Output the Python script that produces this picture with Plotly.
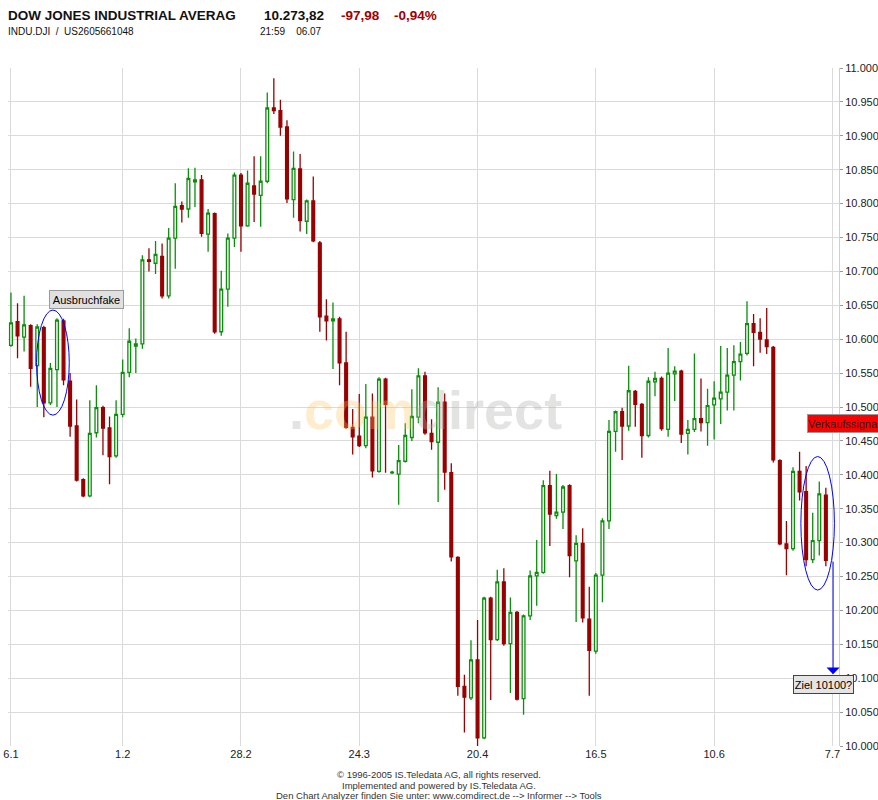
import numpy as np
import pandas as pd
import plotly.graph_objects as go

# NYSE holidays inside the window (no candles on these days)
HOLIDAYS = ["2005-01-17", "2005-02-21", "2005-03-25", "2005-05-30", "2005-07-04"]
TICK_DAYS = ["2005-01-06", "2005-02-01", "2005-02-28", "2005-03-24",
             "2005-04-20", "2005-05-16", "2005-06-10", "2005-07-07"]

# daily OHLC, Dow Jones Industrial Average, 06.01.2005 - 06.07.2005
open_ = [10591, 10626, 10603, 10620, 10561, 10617, 10506, 10555, 10627, 10538,
         10472, 10393, 10369, 10462, 10499, 10469, 10428, 10489, 10551, 10590,
         10593, 10717, 10712, 10722, 10664, 10749, 10797, 10792, 10832, 10835,
         10755, 10785, 10611, 10674, 10749, 10842, 10767, 10826, 10812, 10833,
         10941, 10937, 10913, 10806, 10851, 10774, 10804, 10742, 10634, 10627,
         10630, 10565, 10470, 10457, 10443, 10485, 10405, 10541, 10403, 10401,
         10420, 10455, 10485, 10546, 10461, 10448, 10507, 10403, 10278, 10088,
         10071, 10127, 10012, 10218, 10157, 10242, 10151, 10197, 10070, 10192,
         10251, 10256, 10384, 10340, 10345, 10384, 10273, 10299, 10187, 10140,
         10252, 10332, 10464, 10493, 10472, 10523, 10504, 10458, 10537, 10542,
         10467, 10549, 10553, 10461, 10467, 10483, 10477, 10503, 10512, 10522,
         10547, 10567, 10579, 10623, 10610, 10599, 10588, 10421, 10298, 10291,
         10405, 10375, 10275, 10303, 10370]
high = [10669, 10653, 10664, 10622, 10622, 10620, 10565, 10631, 10630, 10550,
        10511, 10395, 10510, 10532, 10502, 10486, 10510, 10570, 10616, 10601,
        10724, 10734, 10745, 10741, 10764, 10830, 10803, 10852, 10853, 10842,
        10792, 10787, 10701, 10756, 10846, 10845, 10849, 10870, 10870, 10964,
        10985, 10953, 10923, 10877, 10873, 10806, 10840, 10745, 10659, 10654,
        10633, 10611, 10497, 10519, 10534, 10520, 10544, 10543, 10406, 10444,
        10476, 10526, 10557, 10552, 10482, 10529, 10520, 10417, 10280, 10105,
        10156, 10186, 10220, 10220, 10260, 10262, 10219, 10199, 10194, 10259,
        10304, 10392, 10406, 10401, 10385, 10386, 10311, 10321, 10235, 10255,
        10336, 10481, 10495, 10499, 10561, 10525, 10506, 10544, 10552, 10545,
        10587, 10560, 10555, 10481, 10579, 10542, 10527, 10538, 10590, 10587,
        10591, 10596, 10656, 10637, 10631, 10646, 10590, 10423, 10332, 10411,
        10434, 10413, 10344, 10390, 10381]
low = [10589, 10572, 10582, 10530, 10500, 10485, 10503, 10500, 10532, 10456,
       10390, 10367, 10367, 10455, 10429, 10386, 10425, 10485, 10544, 10550,
       10586, 10700, 10696, 10660, 10660, 10704, 10772, 10779, 10795, 10751,
       10729, 10608, 10605, 10648, 10736, 10729, 10766, 10773, 10766, 10830,
       10932, 10900, 10801, 10779, 10759, 10755, 10743, 10611, 10598, 10556,
       10532, 10468, 10430, 10441, 10439, 10396, 10403, 10403, 10401, 10356,
       10418, 10450, 10476, 10459, 10437, 10360, 10378, 10272, 10074, 10020,
       10068, 10000, 10010, 10068, 10155, 10148, 10078, 10067, 10046, 10186,
       10207, 10254, 10295, 10335, 10320, 10249, 10183, 10182, 10074, 10136,
       10212, 10320, 10434, 10422, 10465, 10471, 10425, 10455, 10516, 10465,
       10456, 10509, 10447, 10430, 10463, 10464, 10443, 10452, 10475, 10495,
       10495, 10539, 10576, 10560, 10580, 10578, 10418, 10296, 10252, 10288,
       10362, 10265, 10270, 10281, 10265]
close = [10624, 10605, 10621, 10557, 10618, 10506, 10557, 10628, 10540, 10472,
         10392, 10369, 10461, 10499, 10469, 10427, 10489, 10551, 10597, 10593,
         10717, 10715, 10725, 10664, 10749, 10796, 10792, 10837, 10835, 10756,
         10786, 10611, 10674, 10749, 10842, 10767, 10830, 10814, 10833, 10941,
         10937, 10913, 10807, 10852, 10775, 10804, 10745, 10633, 10627, 10630,
         10565, 10470, 10456, 10443, 10485, 10406, 10541, 10504, 10404, 10421,
         10458, 10486, 10546, 10462, 10449, 10507, 10404, 10279, 10088, 10072,
         10127, 10012, 10218, 10157, 10242, 10151, 10197, 10069, 10192, 10251,
         10256, 10384, 10342, 10345, 10382, 10281, 10299, 10189, 10141, 10252,
         10332, 10464, 10493, 10472, 10524, 10504, 10458, 10538, 10542, 10468,
         10550, 10553, 10460, 10467, 10483, 10477, 10502, 10513, 10522, 10547,
         10567, 10578, 10623, 10610, 10600, 10589, 10422, 10298, 10291, 10405,
         10375, 10275, 10303, 10372, 10274]

trade_days = pd.bdate_range("2005-01-06", TICK_DAYS[-1], freq="C", holidays=HOLIDAYS)
days = trade_days[:len(close)]

GREEN = "#0a8f0a"
RED = "#990000"
FONT = "Liberation Sans, Arial, sans-serif"

# plot area inside the 878x800 page, in pixels
L, R, T, B = 8, 839, 68, 746


def px(x):
    return (x - L) / (R - L)


def py(y):
    return (B - y) / (B - T)


def xat(i):
    # fractional trading-day position -> timestamp on the broken date axis
    k = min(max(int(np.floor(i)), 0), len(trade_days) - 1)
    return str(trade_days[k] + pd.Timedelta(days=i - k))


fig = go.Figure(go.Candlestick(
    x=days, open=open_, high=high, low=low, close=close,
    increasing=dict(line=dict(color=GREEN, width=1.3), fillcolor="white"),
    decreasing=dict(line=dict(color=RED, width=1.3), fillcolor=RED),
    whiskerwidth=0,
    showlegend=False,
))

fig.update_layout(
    width=878, height=800, autosize=False,
    margin=dict(l=L, r=878 - R, t=T, b=800 - B),
    paper_bgcolor="white", plot_bgcolor="white",
    separators=",.",
    boxgap=0.4,
    font=dict(family=FONT, size=11, color="#222"),
    showlegend=False,
)

fig.update_xaxes(
    type="date",
    range=[xat(-0.45), xat(126.0)],
    rangebreaks=[dict(bounds=["sat", "mon"]), dict(values=HOLIDAYS)],
    tickmode="array",
    tickvals=TICK_DAYS,
    ticktext=[f"{d.day}.{d.month}" for d in pd.to_datetime(TICK_DAYS)],
    showgrid=True, gridcolor="#dadada", gridwidth=1,
    ticks="", showline=False, zeroline=False,
    rangeslider=dict(visible=False),
    automargin=False,
    tickfont=dict(size=11, color="#222"),
)
fig.update_yaxes(
    side="right", range=[10000, 11000], tick0=10000, dtick=50,
    tickformat=",d",
    showgrid=True, gridcolor="#dadada", gridwidth=1,
    ticks="outside", ticklen=3, tickcolor="#999",
    showline=True, linecolor="#cfcfcf", zeroline=False,
    automargin=False,
    tickfont=dict(size=11, color="#222"),
)

# blue ellipses round the two patterns
for x0, x1, y0, y1 in [(3.9, 8.87, 10488, 10643), (120.2, 125.3, 10230, 10427)]:
    fig.add_shape(type="circle", xref="x", yref="y",
                  x0=xat(x0), x1=xat(x1), y0=y0, y1=y1,
                  line=dict(color="#0000ff", width=1))

# watermark
grey = "rgba(175,175,170,0.35)"
orange = "rgba(250,195,90,0.3)"
fig.add_annotation(
    xref="paper", yref="paper", x=px(425), y=py(410),
    xanchor="center", yanchor="middle", showarrow=False,
    text=f'<span style="color:{grey}">.</span><span style="color:{orange}">com</span>'
         f'<span style="color:{grey}">direct</span>',
    font=dict(size=54, weight="bold", family=FONT),
)

# label boxes
fig.add_annotation(xref="paper", yref="paper", x=px(86.5), y=py(299.5),
                   xanchor="center", yanchor="middle",
                   text="Ausbruchfake", showarrow=False, width=73, height=17,
                   bgcolor="#e0e0e0", bordercolor="#9a9a9a", borderwidth=1, borderpad=0,
                   font=dict(size=11, color="black"))
fig.add_annotation(xref="paper", yref="paper", x=px(807), y=py(423.7),
                   xanchor="left", yanchor="middle",
                   text="Verkaufssignal", showarrow=False, width=80, height=17, align="left",
                   bgcolor="#ff0000", bordercolor="#999999", borderwidth=1, borderpad=0,
                   font=dict(size=11, color="#222"))
fig.add_annotation(xref="paper", yref="paper", x=px(823.5), y=py(684.5),
                   xanchor="center", yanchor="middle",
                   text="Ziel 10100?", showarrow=False, width=59, height=17,
                   bgcolor="#e4e4e4", bordercolor="#dd0000", borderwidth=1, borderpad=0,
                   font=dict(size=11, color="black"))

# target arrow
fig.add_annotation(xref="x", yref="y", x=xat(125.1), y=10106, text="",
                   showarrow=True, ax=0, ay=-114, arrowhead=1, arrowsize=2.2,
                   arrowwidth=1, arrowcolor="#0000ff")

# header
header = [
    ("<b>DOW JONES INDUSTRIAL AVERAG</b>", 6, 15, 13.5, "#111"),
    ("<b>10.273,82</b>", 262, 15, 13.5, "#111"),
    ("<b>-97,98</b>", 339, 15, 13.5, "#a00000"),
    ("<b>-0,94%</b>", 392, 15, 13.5, "#a00000"),
    ("INDU.DJI&nbsp; /&nbsp; US2605661048", 6, 32, 10, "#111"),
    ("21:59&nbsp;&nbsp;&nbsp; 06.07", 258, 32, 10, "#111"),
]
for text, x, y, size, color in header:
    fig.add_annotation(xref="paper", yref="paper", x=px(x), y=py(y),
                       xanchor="left", yanchor="middle", text=text, showarrow=False,
                       font=dict(size=size, color=color))

# footer
footer = [
    "© 1996-2005 IS.Teledata AG, all rights reserved.",
    "Implemented and powered by IS.Teledata AG.",
    "Den Chart Analyzer finden Sie unter: www.comdirect.de --> Informer --> Tools",
]
for text, y in zip(footer, [774, 785, 795]):
    fig.add_annotation(xref="paper", yref="paper", x=px(439), y=py(y),
                       xanchor="center", yanchor="middle",
                       text=text, showarrow=False, font=dict(size=9.5, color="#333"))

fig.write_html("out.html", config={"displayModeBar": False},
               post_script="document.body.style.margin = '0px';")
